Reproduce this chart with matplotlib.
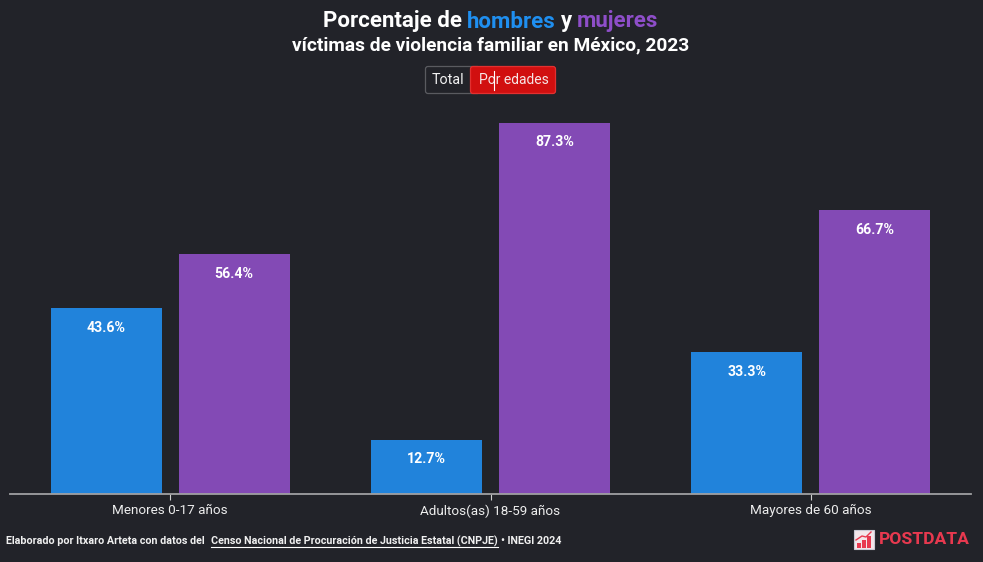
import matplotlib
matplotlib.use("Agg")
import matplotlib.pyplot as plt
from matplotlib.patches import FancyBboxPatch, Rectangle
from matplotlib.transforms import IdentityTransform
import numpy as np

categories = ["Menores 0-17 años", "Adultos(as) 18-59 años", "Mayores de 60 años"]
hombres = [43.6, 12.7, 33.3]
mujeres = [56.4, 87.3, 66.7]

BG = "#222329"
BLUE = "#2183DB"
PURPLE = "#834AB5"
W, H = 983, 562
plt.rcParams["font.family"] = ["Roboto", "DejaVu Sans"]

fig = plt.figure(figsize=(W / 100, H / 100), dpi=100, facecolor=BG)
base = 493.5
ax = fig.add_axes([10 / W, 1 - base / H, 961 / W, 424.4 / H], facecolor=BG)
x = np.arange(len(categories))
bw, off = 0.3465, 0.2
b1 = ax.bar(x - off, hombres, bw, color=BLUE)
b2 = ax.bar(x + off, mujeres, bw, color=PURPLE)
ax.set_xlim(-0.5, 2.5)
ax.set_ylim(0, 100)
for bars, vals in ((b1, hombres), (b2, mujeres)):
    for r, v in zip(bars, vals):
        ax.annotate(f"{v}%", (r.get_x() + r.get_width() / 2, v), xytext=(0, -19.5),
                    textcoords="offset pixels", ha="center", va="center",
                    color="white", fontsize=10.2, fontweight="bold")
for s in ("top", "left", "right"):
    ax.spines[s].set_visible(False)
ax.spines["bottom"].set_color("#a0a0a2")
ax.spines["bottom"].set_linewidth(1.3)
ax.set_yticks([])
ax.set_xticks(x)
ax.set_xticklabels(categories, fontsize=9.7, color="#ededed")
ax.tick_params(axis="x", length=4.5, width=0.8, color="#cfcfcf", pad=3.2)


def fx(px):
    return px / W


def fy(py):
    return 1 - py / H


def chain(parts, cy, size):
    rend = fig.canvas.get_renderer()
    ts = [fig.text(0, fy(cy), s, color=c, fontsize=size, fontweight="bold", va="center", ha="left")
          for s, c in parts]
    ws = [t.get_window_extent(rend).width for t in ts]
    sp = size * 0.32
    total = sum(ws) + sp * (len(ws) - 1)
    cur = 490.5 - total / 2
    for t, w in zip(ts, ws):
        t.set_x(fx(cur))
        cur += w + sp


def box(x0, y0, x1, y1, fc, ec, r=2.5, lw=0.9, z=1):
    fig.add_artist(FancyBboxPatch((x0, H - y1), x1 - x0, y1 - y0,
                                  boxstyle=f"round,pad=0,rounding_size={r}",
                                  fc=fc, ec=ec, lw=lw, transform=IdentityTransform(), zorder=z))


chain([("Porcentaje de", "white"), ("hombres", "#1F8FF0"), ("y", "white"), ("mujeres", "#8E4EC9")], 21.5, 16)
fig.text(fx(490.5), fy(45.5), "víctimas de violencia familiar en México, 2023", color="white",
         fontsize=13.8, fontweight="bold", ha="center", va="center")

# selector buttons
box(425.5, 66.5, 480, 93.5, BG, "#5a5b60", z=1)
box(470.5, 66.5, 555.5, 93.5, "#D10F0F", "#E23030", z=2)
fig.text(fx(448), fy(80), "Total", color="#f2f2f2", fontsize=10.3, ha="center", va="center", zorder=3)
fig.text(fx(513.5), fy(80), "Por edades", color="#f6e6e6", fontsize=10, ha="center", va="center", zorder=3)
fig.add_artist(plt.Line2D([fx(494.4)] * 2, [fy(71), fy(90)], color="white", lw=0.8, zorder=4))

# source
SRC = 7.75
fig.text(fx(6), fy(541), "Elaborado por Itxaro Arteta con datos del ", color="#f0f0f0", fontsize=SRC,
         fontweight="bold", va="center")
rend = fig.canvas.get_renderer()
link = fig.text(fx(211), fy(541), "Censo Nacional de Procuración de Justicia Estatal (CNPJE)", color="#f0f0f0",
                fontsize=SRC, fontweight="bold", va="center")
lw_px = link.get_window_extent(rend).width
fig.add_artist(plt.Line2D([fx(211), fx(211 + lw_px)], [fy(546.5)] * 2, color="white", lw=0.8))
fig.text(fx(211 + lw_px + 3), fy(541), "• INEGI 2024", color="#f0f0f0", fontsize=SRC, fontweight="bold", va="center")

# logo
fig.add_artist(Rectangle((fx(853.5), fy(549)), fx(20), 19.5 / H, fc="#F3E6EA", ec="#c9c9d4", lw=0.8, transform=fig.transFigure))
for px, top in ((857, 543), (862, 540), (867, 536)):
    fig.add_artist(Rectangle((fx(px), fy(548)), fx(4), (548 - top) / H, fc="#E8394F", ec="none", transform=fig.transFigure))
fig.add_artist(plt.Line2D([fx(856), fx(862), fx(866), fx(871)], [fy(540), fy(536), fy(537), fy(532)],
                          color="#E8394F", lw=1))
fig.text(fx(879), fy(539.5), "POSTDATA", color="#E8394F", fontsize=12.6, fontweight="bold", va="center")

fig.savefig("out.png", dpi=100, facecolor=BG)
